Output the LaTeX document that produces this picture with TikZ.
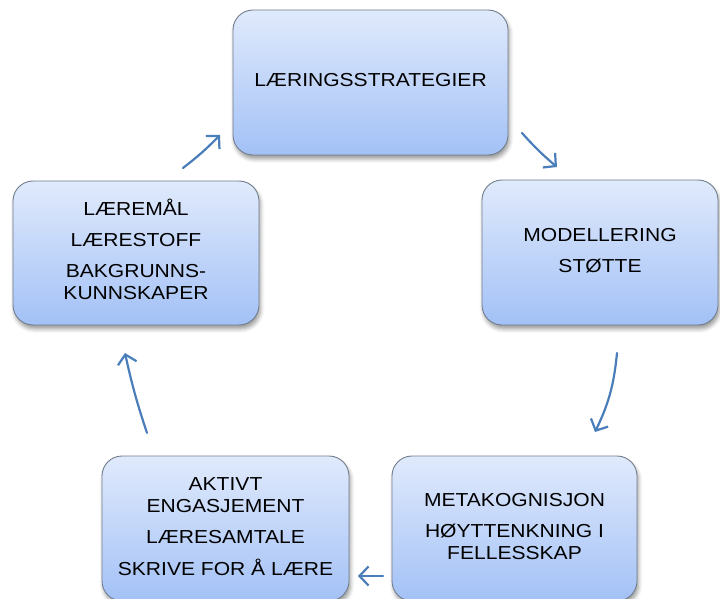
\documentclass[tikz,border=0pt]{standalone}
\usepackage{fontspec}
\setmainfont{Liberation Sans}
\usetikzlibrary{arrows.meta,shadows.blur}
\definecolor{boxtop}{HTML}{E0EAFC}
\definecolor{boxbot}{HTML}{A3C1F6}
\definecolor{boxline}{HTML}{717D8D}
\definecolor{arr}{HTML}{4A7EBB}
\newcommand{\lbl}[1]{\scalebox{1.12}[1]{\fontsize{18.8}{22}\selectfont\begin{tabular}{@{}c@{}}#1\end{tabular}}}
\tikzset{
  card/.style={rectangle, rounded corners=20pt, draw=boxline, line width=0.9pt,
    top color=boxtop, bottom color=boxbot, inner sep=0pt,
    blur shadow={shadow xshift=1.5pt, shadow yshift=-4pt, shadow blur radius=4pt, shadow opacity=40}},
  flow/.style={draw=arr, line width=2.2pt, line cap=round,
    -{Straight Barb[length=9pt,width=19pt]}},
}
\begin{document}
\begin{tikzpicture}[x=1pt,y=1pt]
\useasboundingbox (0,0) rectangle (720,598);
\node[card, minimum width=275pt, minimum height=145pt] (strat) at (370.5,515.5)
  {\lbl{LÆRINGSSTRATEGIER}};
\node[card, minimum width=236pt, minimum height=145pt] (model) at (600,345.5)
  {\lbl{MODELLERING\\[9pt]STØTTE}};
\node[card, minimum width=245pt, minimum height=145pt] (meta) at (514.5,69.5)
  {\lbl{METAKOGNISJON\\[9pt]HØYTTENKNING I\\FELLESSKAP}};
\node[card, minimum width=247pt, minimum height=145pt] (aktiv) at (225.5,69.5)
  {\lbl{AKTIVT\\ENGASJEMENT\\[9pt]LÆRESAMTALE\\[9pt]SKRIVE FOR Å LÆRE}};
\node[card, minimum width=246pt, minimum height=144pt] (maal) at (136,345)
  {\lbl{LÆREMÅL\\[9pt]LÆRESTOFF\\[9pt]BAKGRUNNS-\\KUNNSKAPER}};
\coordinate (a1s) at (183,430);
\coordinate (a1e) at (220,463);
\coordinate (a2s) at (522,465);
\coordinate (a2e) at (557,431);
\coordinate (a3s) at (617,245);
\coordinate (a3e) at (595,166);
\coordinate (a4s) at (383,22);
\coordinate (a4e) at (358,22);
\coordinate (a5s) at (147,165);
\coordinate (a5e) at (125,245);
\draw[flow] (a1s) to[bend right=4] (a1e);
\draw[flow] (a2s) to[bend right=4] (a2e);
\draw[flow] (a3s) to[bend left=10] (a3e);
\draw[flow] (a4s) -- (a4e);
\draw[flow] (a5s) to[bend left=3] (a5e);
\end{tikzpicture}
\end{document}
